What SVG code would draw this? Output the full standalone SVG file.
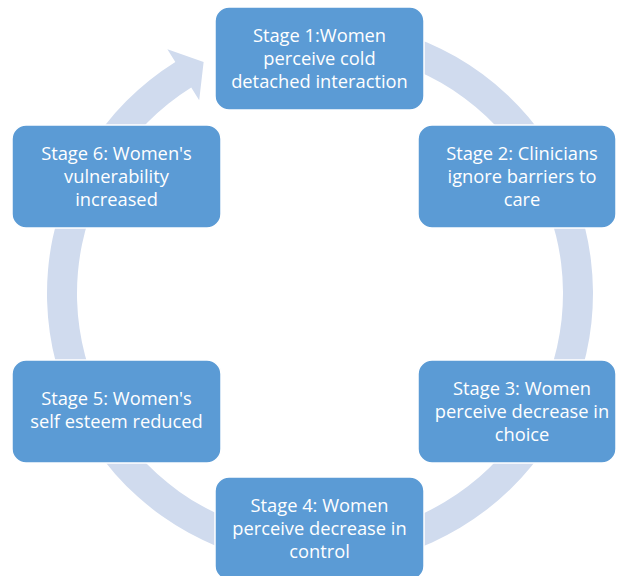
<svg xmlns="http://www.w3.org/2000/svg" width="617" height="576" viewBox="0 0 617 576">
<style>
.box{fill:#5B9BD5;stroke:#FFFFFF;stroke-width:1.5}
.t{font-family:"Open Sans","Liberation Sans",sans-serif;font-size:18.3px;fill:#FFFFFF;text-anchor:middle}
.ring{fill:#D0DBEE}
</style>
<rect width="617" height="576" fill="#FFFFFF"/>
<g id="connectors">
<path class="ring" d="M367.41,24.65 A273,273 0 1 1 175.33,61.98 L167.38,49.26 L203.63,61.98 L199.18,100.14 L191.23,87.42 A243,243 0 1 0 362.20,54.19 Z"/>
</g>
<g id="stage1">
<rect class="box" x="215" y="7" width="209" height="103" rx="14"/>
<text class="t" x="319.5" y="42">Stage 1:Women</text>
<text class="t" x="319.5" y="65">perceive cold</text>
<text class="t" x="319.5" y="88">detached interaction</text>
</g>
<g id="stage2">
<rect class="box" x="418" y="125" width="198" height="103" rx="14"/>
<text class="t" x="522" y="160">Stage 2: Clinicians</text>
<text class="t" x="522" y="183">ignore barriers to</text>
<text class="t" x="522" y="206">care</text>
</g>
<g id="stage3">
<rect class="box" x="418" y="360" width="198" height="103" rx="14"/>
<text class="t" x="522" y="395">Stage 3: Women</text>
<text class="t" x="522" y="418">perceive decrease in</text>
<text class="t" x="522" y="441">choice</text>
</g>
<g id="stage4">
<rect class="box" x="215" y="477" width="209" height="103" rx="14"/>
<text class="t" x="319.5" y="512">Stage 4: Women</text>
<text class="t" x="319.5" y="535">perceive decrease in</text>
<text class="t" x="319.5" y="558">control</text>
</g>
<g id="stage5">
<rect class="box" x="12" y="360" width="209" height="103" rx="14"/>
<text class="t" x="116.5" y="405">Stage 5: Women's</text>
<text class="t" x="116.5" y="428">self esteem reduced</text>
</g>
<g id="stage6">
<rect class="box" x="12" y="125" width="209" height="103" rx="14"/>
<text class="t" x="116.5" y="160">Stage 6: Women's</text>
<text class="t" x="116.5" y="183">vulnerability</text>
<text class="t" x="116.5" y="206">increased</text>
</g>
</svg>
